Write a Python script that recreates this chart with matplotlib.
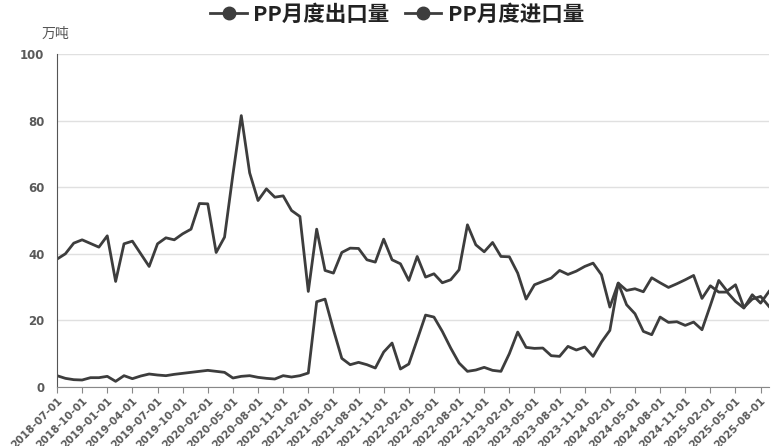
import matplotlib
import pandas as pd

matplotlib.use("Agg")

import matplotlib.pyplot as plt
from matplotlib.lines import Line2D

plt.rcParams["font.family"] = ["Noto Sans CJK SC", "DejaVu Sans"]

# monthly, 2018-07 .. 2025-09, Jan 2020 not reported
months = pd.date_range("2018-07-01", "2025-09-01", freq="MS")
months = months[months != pd.Timestamp("2020-01-01")]
labels = [d.strftime("%Y-%m-%d") for d in months]

export_vol = [
    3.4, 2.6, 2.2, 2.1, 2.8, 2.8, 3.2, 1.7, 3.4, 2.5,
    3.3, 3.9, 3.6, 3.4, 3.8, 4.1, 4.4, 4.7, 5.0, 4.7,
    4.4, 2.7, 3.2, 3.4, 2.9, 2.6, 2.4, 3.4, 3.0, 3.4,
    4.2, 25.6, 26.4, 17.2, 8.6, 6.7, 7.4, 6.7, 5.7, 10.5,
    13.2, 5.4, 6.9, 14.2, 21.6, 21.0, 16.7, 11.7, 7.2, 4.7,
    5.1, 5.9, 5.0, 4.7, 10.0, 16.5, 11.9, 11.6, 11.7, 9.4,
    9.2, 12.2, 11.1, 12.0, 9.2, 13.5, 17.0, 31.2, 24.7, 22.0,
    16.7, 15.7, 21.0, 19.4, 19.6, 18.5, 19.5, 17.2, 24.5, 32.0,
    28.8, 30.7, 23.9, 26.4, 27.2, 24.2,
]
import_vol = [
    38.4, 40.0, 43.2, 44.2, 43.1, 42.0, 45.4, 31.7, 43.0, 43.8,
    40.0, 36.2, 43.0, 44.8, 44.2, 46.0, 47.4, 55.1, 55.0, 40.4,
    45.0, 63.8, 81.5, 64.3, 56.0, 59.5, 57.0, 57.4, 53.0, 51.2,
    28.7, 47.4, 35.0, 34.2, 40.4, 41.7, 41.6, 38.2, 37.5, 44.4,
    38.2, 37.0, 32.0, 39.2, 33.0, 34.0, 31.3, 32.2, 35.2, 48.7,
    42.7, 40.6, 43.4, 39.2, 39.1, 34.2, 26.4, 30.7, 31.7, 32.7,
    35.0, 33.8, 34.8, 36.2, 37.2, 33.7, 24.0, 31.2, 29.0, 29.5,
    28.6, 32.8, 31.3, 29.9, 31.0, 32.2, 33.5, 26.6, 30.4, 28.5,
    28.5, 25.7, 23.7, 27.7, 25.2, 28.7,
]

line_color = "#3d3d3d"
tick_color = "#5a5a5a"

fig = plt.figure(figsize=(7.74, 4.46), dpi=100)
ax = fig.add_axes([57 / 774, 1 - 387 / 446, 712 / 774, 333 / 446])

x = list(range(len(labels)))
ax.plot(x, export_vol, color=line_color, linewidth=2)
ax.plot(x, import_vol, color=line_color, linewidth=2)

ax.set_xlim(0, len(labels) - 1)
ax.set_ylim(0, 100)
ax.set_yticks([0, 20, 40, 60, 80, 100])
ax.set_xticks(x[::3])
ax.set_xticklabels(labels[::3], rotation=45, ha="right", va="top", rotation_mode="anchor")

ax.grid(axis="y", color="#e0e0e0", linewidth=1)
ax.set_axisbelow(True)
for side in ("top", "right"):
    ax.spines[side].set_visible(False)
ax.spines["left"].set_color("#555555")
ax.spines["bottom"].set_color("#888888")
ax.tick_params(axis="y", length=0, pad=9, labelcolor=tick_color)
ax.tick_params(axis="x", length=4, color="#888888", pad=2, labelcolor=tick_color)
for lab in ax.get_yticklabels():
    lab.set_fontfamily("DejaVu Sans")
    lab.set_fontweight("bold")
    lab.set_fontsize(8.5)
for lab in ax.get_xticklabels():
    lab.set_fontfamily("DejaVu Sans")
    lab.set_fontweight("bold")
    lab.set_fontsize(7.6)

fig.text(42 / 774, 1 - 34 / 446, "万吨", fontsize=10, color="#555555", va="center")

handles = [
    Line2D([], [], color=line_color, linewidth=2, marker="o", markersize=9),
    Line2D([], [], color=line_color, linewidth=2, marker="o", markersize=9),
]
fig.legend(
    handles,
    ["PP月度出口量", "PP月度进口量"],
    loc="center",
    bbox_to_anchor=(0.513, 1 - 14 / 446),
    ncol=2,
    frameon=False,
    handlelength=1.7,
    handletextpad=0.3,
    columnspacing=0.7,
    prop={"size": 15.5, "weight": "bold"},
    labelcolor="#222222",
)

fig.savefig("out.png", dpi=100)
plt.close(fig)
